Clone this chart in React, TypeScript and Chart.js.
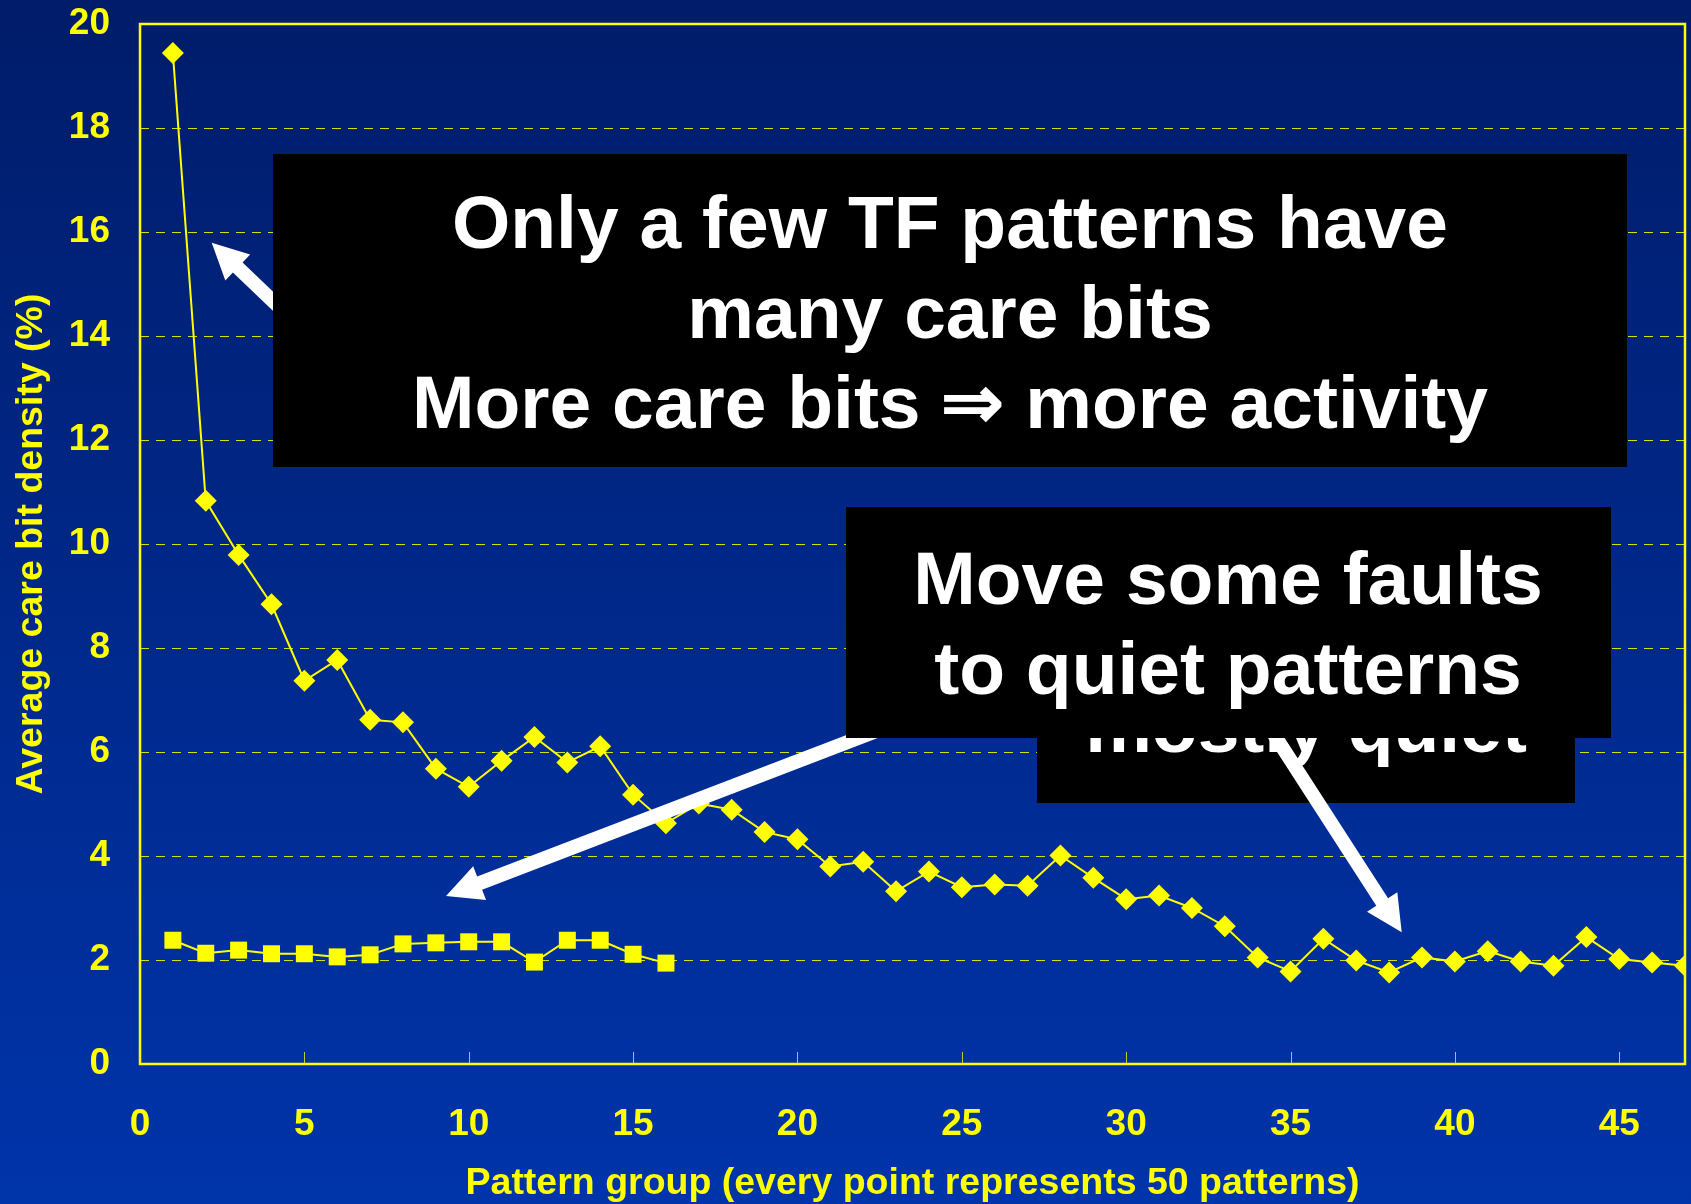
import React, { useEffect, useRef } from "react";
import { Chart, registerables } from "chart.js";

Chart.register(...registerables);

const CANVAS_W = 1691;
const CANVAS_H = 1204;

// ---------- data ----------
const patternGroupsTF = [
  1, 2, 3, 4, 5, 6, 7, 8, 9, 10, 11, 12, 13, 14, 15, 16, 17, 18, 19, 20, 21, 22, 23, 24,
  25, 26, 27, 28, 29, 30, 31, 32, 33, 34, 35, 36, 37, 38, 39, 40, 41, 42, 43, 44, 45, 46, 47,
];
const careBitDensityTF = [
  19.44, 10.83, 9.79, 8.84, 7.37, 7.77, 6.62, 6.57, 5.68, 5.33, 5.83, 6.29, 5.8, 6.11, 5.18,
  4.63, 5.01, 4.89, 4.46, 4.32, 3.8, 3.89, 3.32, 3.7, 3.4, 3.45, 3.43, 4.01, 3.58, 3.17, 3.24,
  3.0, 2.65, 2.05, 1.78, 2.41, 1.99, 1.76, 2.05, 1.97, 2.17, 1.97, 1.89, 2.44, 2.02, 1.95, 1.89,
];
const patternGroupsQuiet = [1, 2, 3, 4, 5, 6, 7, 8, 9, 10, 11, 12, 13, 14, 15, 16];
const careBitDensityQuiet = [
  2.38, 2.13, 2.19, 2.12, 2.12, 2.06, 2.1, 2.31, 2.33, 2.35, 2.35, 1.96, 2.38, 2.38, 2.11, 1.94,
];

const xAxisMin = 0;
const xAxisMax = 47;
const xTickStep = 5;
const yAxisMin = 0;
const yAxisMax = 20;
const yTickStep = 2;

const xAxisTitle = "Pattern group (every point represents 50 patterns)";
const yAxisTitle = "Average care bit density (%)";

const noteTopLines = ["Only a few TF patterns have", "many care bits", "More care bits \u21D2 more activity"];
const noteMoveLines = ["Move some faults", "to quiet patterns"];
const noteQuietLines = ["mostly quiet"];

// ---------- styles / layout ----------
const YELLOW = "#ffff00";
const FONT_FAMILY = "'Liberation Sans', Arial, Helvetica, sans-serif";

const boxTop = { left: 273, top: 154, right: 1627, bottom: 467, cx: 950, baselines: [248, 338, 428] };
const boxQuiet = { left: 1037, top: 690, right: 1575, bottom: 803, cx: 1306, baselines: [752] };
const boxMove = { left: 846, top: 507, right: 1611, bottom: 738, cx: 1228, baselines: [604, 694] };

const arrowTop = { x0: 300, y0: 327, x1: 211.7, y1: 242.7 };
const arrowMove = { x0: 900, y0: 722, x1: 446, y1: 896 };
const arrowQuiet = { x0: 1266, y0: 722, x1: 1401.7, y1: 932.3 };

function drawArrow(ctx: CanvasRenderingContext2D, a: { x0: number; y0: number; x1: number; y1: number }) {
  const shaftW = 14;
  const headL = 36;
  const headW = 36;
  const dx = a.x1 - a.x0;
  const dy = a.y1 - a.y0;
  const len = Math.hypot(dx, dy);
  const ux = dx / len;
  const uy = dy / len;
  const nx = -uy;
  const ny = ux;
  const bx = a.x1 - ux * headL;
  const by = a.y1 - uy * headL;
  ctx.beginPath();
  ctx.moveTo(a.x0 + (nx * shaftW) / 2, a.y0 + (ny * shaftW) / 2);
  ctx.lineTo(bx + (nx * shaftW) / 2, by + (ny * shaftW) / 2);
  ctx.lineTo(bx + (nx * headW) / 2, by + (ny * headW) / 2);
  ctx.lineTo(a.x1, a.y1);
  ctx.lineTo(bx - (nx * headW) / 2, by - (ny * headW) / 2);
  ctx.lineTo(bx - (nx * shaftW) / 2, by - (ny * shaftW) / 2);
  ctx.lineTo(a.x0 - (nx * shaftW) / 2, a.y0 - (ny * shaftW) / 2);
  ctx.closePath();
  ctx.fillStyle = "#ffffff";
  ctx.fill();
}

function drawNote(
  ctx: CanvasRenderingContext2D,
  box: { left: number; top: number; right: number; bottom: number; cx: number; baselines: number[] },
  lines: string[]
) {
  ctx.fillStyle = "#000000";
  ctx.fillRect(box.left, box.top, box.right - box.left, box.bottom - box.top);
  ctx.save();
  ctx.beginPath();
  ctx.rect(box.left, box.top, box.right - box.left, box.bottom - box.top);
  ctx.clip();
  ctx.fillStyle = "#ffffff";
  ctx.font = `bold 75px ${FONT_FAMILY}`;
  ctx.textAlign = "center";
  ctx.textBaseline = "alphabetic";
  lines.forEach((t, i) => ctx.fillText(t, box.cx, box.baselines[i]));
  ctx.restore();
}

const backgroundPlugin = {
  id: "slideBackground",
  beforeDraw(chart: any) {
    const { ctx, width, height } = chart;
    const g = ctx.createLinearGradient(0, 0, 0, height);
    g.addColorStop(0, "#001c6a");
    g.addColorStop(1, "#0034aa");
    ctx.save();
    ctx.fillStyle = g;
    ctx.fillRect(0, 0, width, height);
    ctx.restore();
  },
};

const gridFramePlugin = {
  id: "gridFrame",
  beforeDatasetsDraw(chart: any) {
    const { ctx, chartArea: a, scales } = chart;
    const y = scales.y;
    const x = scales.x;
    ctx.save();
    ctx.strokeStyle = "rgba(255,255,0,0.85)";
    ctx.lineWidth = 1;
    ctx.setLineDash([9, 7]);
    y.ticks.forEach((t: any) => {
      if (t.value <= y.min || t.value >= y.max) return;
      const py = Math.round(y.getPixelForValue(t.value)) + 0.5;
      ctx.beginPath();
      ctx.moveTo(a.left, py);
      ctx.lineTo(a.right, py);
      ctx.stroke();
    });
    ctx.setLineDash([]);
    ctx.strokeStyle = "rgba(255,255,0,0.75)";
    x.ticks.forEach((t: any) => {
      if (t.value <= x.min) return;
      const px = Math.round(x.getPixelForValue(t.value)) + 0.5;
      ctx.beginPath();
      ctx.moveTo(px, a.bottom);
      ctx.lineTo(px, a.bottom - 12);
      ctx.stroke();
    });
    ctx.strokeStyle = YELLOW;
    ctx.lineWidth = 2.5;
    ctx.strokeRect(a.left, a.top, a.right - a.left, a.bottom - a.top);
    ctx.restore();
  },
};

const notesPlugin = {
  id: "notes",
  afterDatasetsDraw(chart: any) {
    const ctx: CanvasRenderingContext2D = chart.ctx;
    ctx.save();
    drawArrow(ctx, arrowTop);
    drawNote(ctx, boxTop, noteTopLines);
    drawArrow(ctx, arrowMove);
    drawNote(ctx, boxQuiet, noteQuietLines);
    drawArrow(ctx, arrowQuiet);
    drawNote(ctx, boxMove, noteMoveLines);
    ctx.restore();
  },
};

function zeroScalePadding(scale: any) {
  scale.paddingTop = 0;
  scale.paddingBottom = 0;
  scale.paddingLeft = 0;
  scale.paddingRight = 0;
}

export default function App() {
  const canvasRef = useRef<HTMLCanvasElement | null>(null);

  useEffect(() => {
    document.body.style.margin = "0";
    document.body.style.overflow = "hidden";
    const canvas = canvasRef.current;
    if (!canvas) return;

    const tickFont = { family: FONT_FAMILY, size: 37, weight: "bold" as const };
    const titleFont = { family: FONT_FAMILY, size: 37.5, weight: "bold" as const, lineHeight: 1.1 };

    const chart = new Chart(canvas, {
      type: "line",
      data: {
        datasets: [
          {
            label: "TF patterns",
            data: patternGroupsTF.map((g, i) => ({ x: g, y: careBitDensityTF[i] })),
            borderColor: YELLOW,
            backgroundColor: YELLOW,
            borderWidth: 2,
            tension: 0,
            pointStyle: "rectRot",
            pointRadius: 11,
            pointBorderWidth: 0,
            pointBackgroundColor: YELLOW,
            clip: 1,
          },
          {
            label: "Quiet patterns",
            data: patternGroupsQuiet.map((g, i) => ({ x: g, y: careBitDensityQuiet[i] })),
            borderColor: YELLOW,
            backgroundColor: YELLOW,
            borderWidth: 2,
            tension: 0,
            pointStyle: "rect",
            pointRadius: 12,
            pointBorderWidth: 0,
            pointBackgroundColor: YELLOW,
            clip: 1,
          },
        ],
      },
      options: {
        responsive: false,
        animation: false,
        devicePixelRatio: 1,
        layout: { autoPadding: false, padding: { top: 24, right: 6, bottom: 0, left: 0 } },
        plugins: {
          legend: { display: false },
          tooltip: { enabled: false },
        },
        scales: {
          x: {
            type: "linear",
            min: xAxisMin,
            max: xAxisMax,
            grid: { display: false, drawTicks: false },
            border: { display: false },
            ticks: {
              stepSize: xTickStep,
              includeBounds: false,
              autoSkip: false,
              maxRotation: 0,
              color: YELLOW,
              font: tickFont,
              padding: 39,
            },
            title: {
              display: true,
              text: xAxisTitle,
              color: YELLOW,
              font: titleFont,
              padding: { top: 0, bottom: 0 },
            },
            afterFit: (scale: any) => {
              scale.height = 140;
              zeroScalePadding(scale);
            },
          },
          y: {
            type: "linear",
            min: yAxisMin,
            max: yAxisMax,
            grid: { display: false, drawTicks: false },
            border: { display: false },
            ticks: {
              stepSize: yTickStep,
              color: YELLOW,
              font: tickFont,
              padding: 30,
            },
            title: {
              display: true,
              text: yAxisTitle,
              color: YELLOW,
              font: titleFont,
              padding: { top: 11, bottom: 0 },
            },
            afterFit: (scale: any) => {
              scale.width = 140;
              zeroScalePadding(scale);
            },
          },
        },
      },
      plugins: [backgroundPlugin, gridFramePlugin, notesPlugin],
    } as any);

    return () => {
      chart.destroy();
    };
  }, []);

  return (
    <div style={{ position: "absolute", left: 0, top: 0, width: CANVAS_W, height: CANVAS_H, overflow: "hidden" }}>
      <canvas ref={canvasRef} width={CANVAS_W} height={CANVAS_H} style={{ display: "block" }} />
    </div>
  );
}
